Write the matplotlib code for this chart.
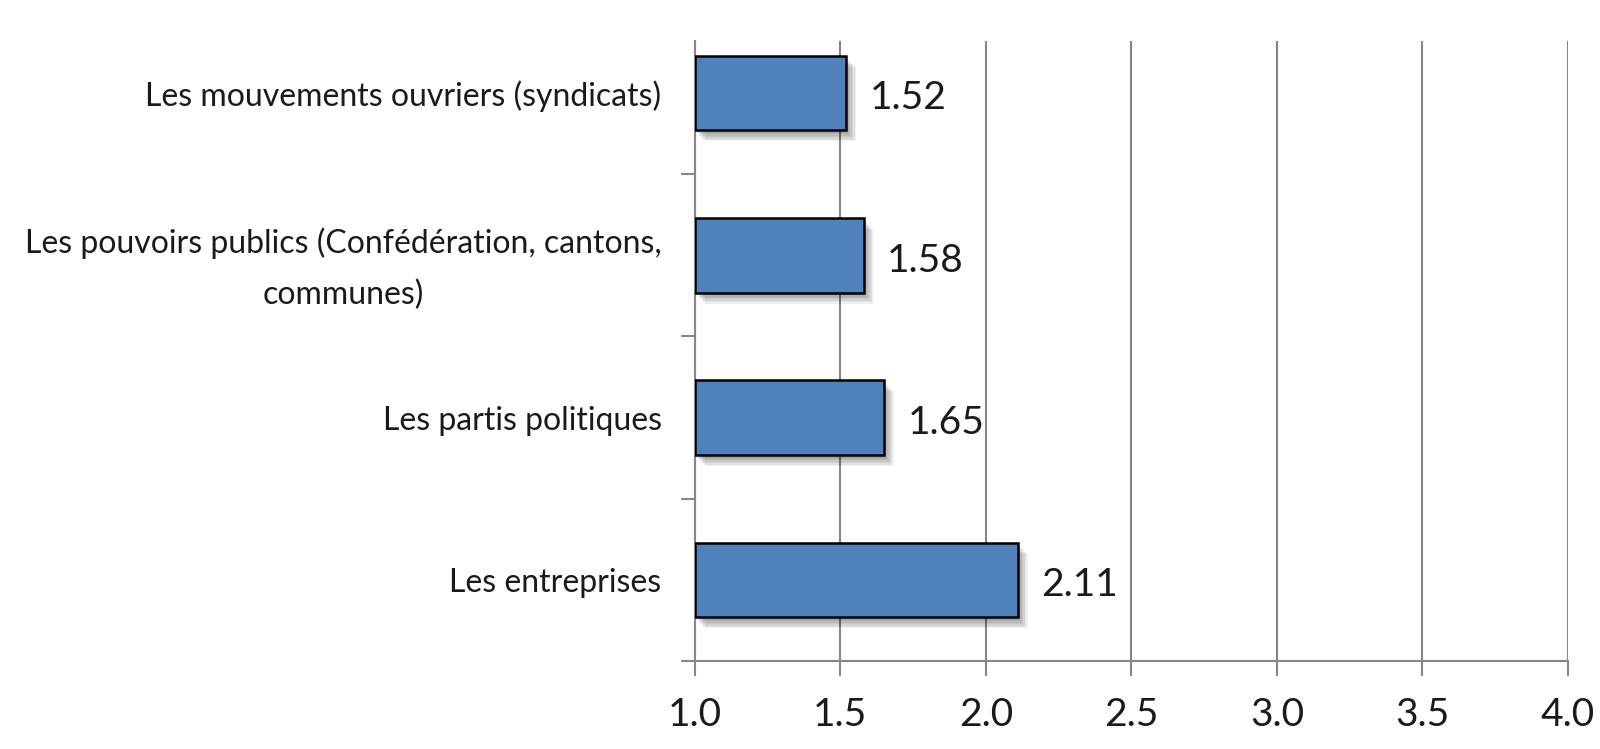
import matplotlib.pyplot as plt
import matplotlib.patheffects as pe
import numpy as np

plt.rcParams['font.family'] = ['Lato', 'DejaVu Sans']

categories = [
    "Les entreprises",
    "Les partis politiques",
    "Les pouvoirs publics (Confédération, cantons,\ncommunes)",
    "Les mouvements ouvriers (syndicats)",
]
values = [2.11, 1.65, 1.58, 1.52]
xticks = [1.0, 1.5, 2.0, 2.5, 3.0, 3.5, 4.0]

grid_col = "#868686"
txt_col = "#1a1a1a"

fig = plt.figure(figsize=(16, 7.49), dpi=100)
ax = fig.add_axes([0.4343, 0.1175, 0.5457, 0.8278])

y = np.arange(len(categories))
left = xticks[0]
bars = ax.barh(y, [v - left for v in values], left=left, height=0.46,
               color="#4F81BD", edgecolor="black", linewidth=1.8, zorder=3)
# ombre douce sous les barres
shadow = [pe.SimplePatchShadow(offset=(o, -o - 1), shadow_rgbFace="#000000", alpha=0.06)
          for o in (1, 2, 3, 4, 5, 6, 7)]
for b in bars:
    b.set_path_effects(shadow + [pe.Normal()])

for yi, v in zip(y, values):
    ax.annotate(f"{v:.2f}", xy=(v, yi), xytext=(17, -4), textcoords="offset points",
                va="center", ha="left", fontsize=28, color=txt_col)

ax.set_xlim(1.0, 4.0)
ax.set_ylim(-0.5, 3.32)
ax.set_xticks(xticks)
ax.set_xticklabels([f"{t:.1f}" for t in xticks], fontsize=28, color=txt_col)
ax.set_yticks(y)
ax.set_yticklabels(categories, fontsize=23, multialignment="center", color=txt_col,
                   linespacing=1.85)
ax.tick_params(axis="y", length=0, pad=24)
ax.set_yticks(np.arange(-0.5, 3.0, 1.0), minor=True)
ax.tick_params(axis="y", which="minor", length=10, width=1.5, color=grid_col, direction="out")
ax.tick_params(axis="x", length=11, width=1.5, color=grid_col, direction="out", pad=15)

ax.grid(axis="x", color=grid_col, linewidth=1.5, zorder=0)
ax.set_axisbelow(True)
for s in ["top", "right"]:
    ax.spines[s].set_visible(False)
for s in ["left", "bottom"]:
    ax.spines[s].set_color(grid_col)
    ax.spines[s].set_linewidth(1.5)

plt.savefig("out.png", dpi=100)
